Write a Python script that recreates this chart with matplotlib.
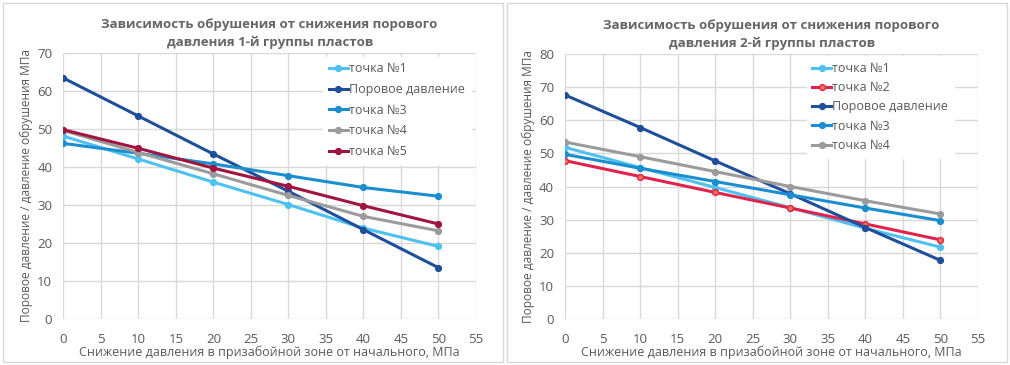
import matplotlib.pyplot as plt
from matplotlib.patches import Rectangle

plt.rcParams['font.family'] = ['Open Sans', 'DejaVu Sans']

x = [0, 10, 20, 30, 40, 50]

# 1-я группа пластов
g1_names = ['точка №1', 'Поровое давление', 'точка №3', 'точка №4', 'точка №5']
g1_p1 = [48.1, 42.1, 36.0, 30.1, 23.9, 19.1]
g1_pore = [63.4, 53.4, 43.4, 33.6, 23.5, 13.5]
g1_p3 = [46.2, 43.6, 40.8, 37.7, 34.6, 32.3]
g1_p4 = [49.6, 43.8, 38.2, 32.5, 27.0, 23.2]
g1_p5 = [49.8, 44.9, 39.7, 34.9, 29.8, 25.0]

# 2-я группа пластов
g2_names = ['точка №1', 'точка №2', 'Поровое давление', 'точка №3', 'точка №4']
g2_p1 = [51.8, 45.7, 39.7, 33.6, 27.4, 21.7]
g2_p2 = [47.8, 43.0, 38.2, 33.5, 28.7, 23.9]
g2_pore = [67.6, 57.8, 47.7, 37.8, 27.6, 17.7]
g2_p3 = [49.7, 45.5, 41.5, 37.5, 33.5, 29.7]
g2_p4 = [53.4, 49.0, 44.5, 40.0, 35.7, 31.7]

LIGHT = '#4FC1F0'
DARK = '#1F4E9B'
MID = '#1A8ED0'
GRAY = '#9B9B9B'
WINE = '#A0153E'
RED = '#E0234E'
TXT = '#595959'
GRID = '#D9D9D9'

fig = plt.figure(figsize=(10.1, 3.65), dpi=100)

# panel frames
for x0 in (0.003, 0.502):
    fig.patches.append(Rectangle((x0, 0.008), 0.495, 0.984, transform=fig.transFigure,
                                 fill=False, edgecolor=GRID, lw=1.0))


def style(ax, ymax, title):
    ax.set_xlim(0, 55)
    ax.set_ylim(0, ymax)
    ax.set_xticks(range(0, 56, 5))
    ax.set_yticks(range(0, ymax + 1, 10))
    ax.grid(True, color=GRID, lw=1.0)
    ax.set_axisbelow(True)
    for s in ax.spines.values():
        s.set_visible(False)
    ax.tick_params(length=0, colors=TXT, labelsize=9.5)
    ax.tick_params(axis='x', pad=10)
    ax.tick_params(axis='y', pad=8)
    ax.set_xlabel('Снижение давления в призабойной зоне от начального, МПа',
                  color=TXT, fontsize=9, labelpad=0)
    ax.set_ylabel('Поровое давление / давление обрушения МПа', color=TXT, fontsize=8.6, labelpad=3)
    ax.set_title(title, color='#666666', fontsize=9.5, fontweight='bold', pad=5, linespacing=1.5)


def line(ax, y, c, label, face=None):
    ax.plot(x, y, color=c, lw=2.2, marker='o', markersize=4.2,
            markerfacecolor=face or c, markeredgecolor=c, markeredgewidth=1, label=label)


ax1 = fig.add_axes([0.0627, 0.126, 0.4086, 0.729])
line(ax1, g1_p1, LIGHT, g1_names[0])
line(ax1, g1_pore, DARK, g1_names[1])
line(ax1, g1_p3, MID, g1_names[2])
line(ax1, g1_p4, GRAY, g1_names[3])
line(ax1, g1_p5, WINE, g1_names[4])
style(ax1, 70, 'Зависимость обрушения от снижения порового\nдавления 1-й группы пластов')
leg1 = ax1.legend(loc='upper left', bbox_to_anchor=(0.615, 1.01), frameon=True, fontsize=9,
                  handlelength=1.5, handletextpad=0.1, labelspacing=0.62, borderpad=0.45)

ax2 = fig.add_axes([0.5597, 0.126, 0.4086, 0.726])
line(ax2, g2_p1, LIGHT, g2_names[0])
line(ax2, g2_p2, RED, g2_names[1], face='#F4704F')
line(ax2, g2_pore, DARK, g2_names[2])
line(ax2, g2_p3, MID, g2_names[3])
line(ax2, g2_p4, GRAY, g2_names[4])
style(ax2, 80, 'Зависимость обрушения от снижения порового\nдавления 2-й группы пластов')
leg2 = ax2.legend(loc='upper left', bbox_to_anchor=(0.57, 1.015), frameon=True, fontsize=9,
                  handlelength=1.5, handletextpad=0.1, labelspacing=0.5, borderpad=0.45)

for leg in (leg1, leg2):
    leg.get_frame().set_edgecolor('white')
    leg.get_frame().set_facecolor('white')
    leg.get_frame().set_alpha(1)
    leg.get_frame().set_boxstyle('square', pad=0)
    for t in leg.get_texts():
        t.set_color(TXT)

fig.savefig('out.png', dpi=100)
